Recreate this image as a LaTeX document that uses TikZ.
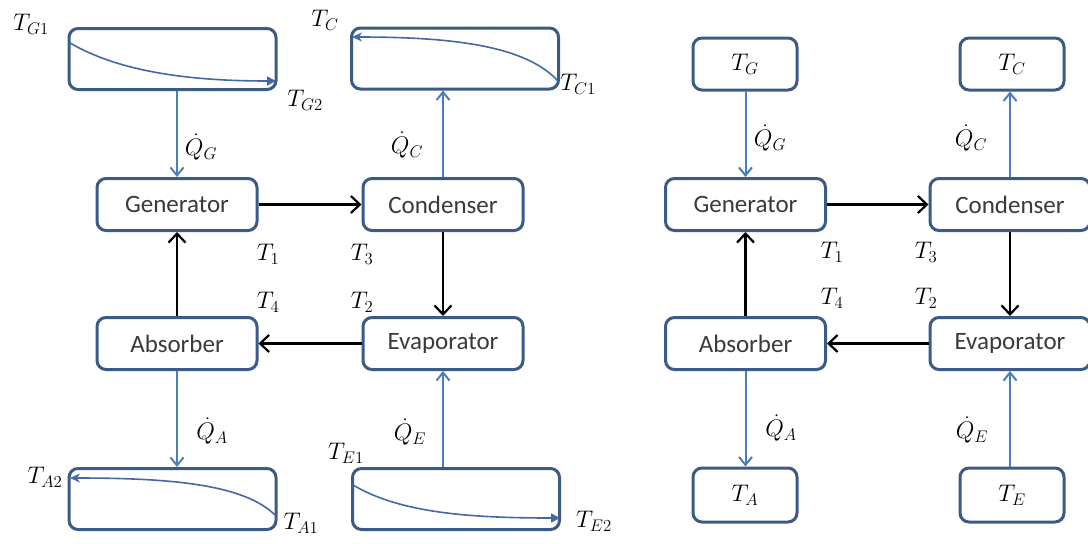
\RequirePackage{fix-cm}
\documentclass[tikz,border=0pt]{standalone}
\usepackage{fontspec}
\setmainfont{Carlito}
\usetikzlibrary{arrows.meta}
\definecolor{boxc}{HTML}{3B5B86}
\definecolor{bluea}{HTML}{4A7EBB}
\definecolor{curvec}{HTML}{4468A6}
\definecolor{txt}{HTML}{3A3A3A}
\begin{document}
\begin{tikzpicture}[x=1pt,y=-1pt,
  rbox/.style={draw=boxc, line width=3pt, rounded corners=9pt, fill=white, inner sep=0pt,
    font=\fontsize{25}{28}\selectfont, text=txt},
  hx/.style={rbox, minimum width=207pt, minimum height=61pt},
  proc/.style={rbox, minimum width=160pt, minimum height=52pt},
  res/.style={rbox, minimum width=104pt, minimum height=52pt, font=\fontsize{24}{28}\selectfont, text=black},
  lab/.style={inner sep=0pt, font=\fontsize{24}{28}\selectfont, text=black},
  flow/.style={draw=black, line width=2.2pt, -{Straight Barb[length=9pt,width=17pt,line width=2.2pt]}},
  heat/.style={draw=bluea, line width=2pt, -{Straight Barb[length=8pt,width=13pt,line width=2pt]}},
  tcurve/.style={draw=curvec, line width=1.6pt}
]
\useasboundingbox (0,0) rectangle (1088,544);
% ---------------- left diagram ----------------
\node[hx] (hg) at (172.5,59) {};
\node[hx] (hc) at (455,58.5) {};
\node[hx] (ha) at (172.5,499) {};
\node[hx] (he) at (456,499) {};
\node[proc] (gen) at (177,204.5) {Generator};
\node[proc] (con) at (443,204.5) {Condenser};
\node[proc] (abs) at (177,343.5) {Absorber};
\node[proc] (eva) at (443,343.5) {Evaporator};

\draw[flow] (gen.east) -- (con.west);
\draw[flow] (con.south) -- (eva.north);
\draw[flow] (eva.west) -- (abs.east);
\draw[flow] (abs.north) -- (gen.south);

\draw[heat] (hg.south -| gen.north) -- (gen.north);
\draw[heat] (con.north) -- (con.north |- hc.south);
\draw[heat] (abs.south) -- (abs.south |- ha.north);
\draw[heat] (eva.south |- he.north) -- (eva.south);

% temperature curves inside the heat exchangers
\coordinate (g1) at (70,43);   \coordinate (g2) at (276,81);
\coordinate (c1) at (558,81);  \coordinate (c2) at (352,37);
\coordinate (a1) at (276,516); \coordinate (a2) at (70,478);
\coordinate (e1) at (353,485); \coordinate (e2) at (560,518);
\draw[tcurve, -{Triangle[length=9pt,width=9pt]}] (g1) .. controls (120,72) and (190,81) .. (g2);
\draw[tcurve, -{Stealth[length=10pt,width=9pt,open]}] (c1) .. controls (525,45) and (450,37) .. (c2);
\draw[tcurve, -{Stealth[length=10pt,width=9pt,open]}] (a1) .. controls (245,484) and (170,478) .. (a2);
\draw[tcurve, -{Triangle[length=9pt,width=9pt]}] (e1) .. controls (400,513) and (470,518) .. (e2);

\node[lab] (lg1) at (31,24) {$T_{G1}$};
\node[lab] (lg2) at (305,100) {$T_{G2}$};
\node[lab] (lc) at (325,20) {$T_{C}$};
\node[lab] (lc1) at (578,84) {$T_{C1}$};
\node[lab] (la2) at (45,477) {$T_{A2}$};
\node[lab] (la1) at (301,523) {$T_{A1}$};
\node[lab] (le1) at (346,453) {$T_{E1}$};
\node[lab] (le2) at (594,521) {$T_{E2}$};

\node[lab] (qg) at (201,147) {$\dot{Q}_G$};
\node[lab] (qc) at (407,145) {$\dot{Q}_C$};
\node[lab] (qa) at (212,431) {$\dot{Q}_A$};
\node[lab] (qe) at (410,432) {$\dot{Q}_E$};

\node[lab] (t1) at (268,254) {$T_1$};
\node[lab] (t3) at (362,254) {$T_3$};
\node[lab] (t4) at (268,302) {$T_4$};
\node[lab] (t2) at (362,302) {$T_2$};

% ---------------- right diagram ----------------
\node[res] (tg) at (745,64) {$T_G$};
\node[res] (tc) at (1012,64) {$T_C$};
\node[res, minimum height=54pt] (ta) at (745,495) {$T_A$};
\node[res, minimum height=54pt] (te) at (1012,495) {$T_E$};
\node[proc] (gen2) at (745.5,204.5) {Generator};
\node[proc] (con2) at (1010,204.5) {Condenser};
\node[proc] (abs2) at (745.5,343.5) {Absorber};
\node[proc] (eva2) at (1010,343.5) {Evaporator};

\draw[flow] (gen2.east) -- (con2.west);
\draw[flow] (con2.south) -- (eva2.north);
\draw[flow] (eva2.west) -- (abs2.east);
\draw[flow] (abs2.north) -- (gen2.south);

\draw[heat] (tg.south -| gen2.north) -- (gen2.north);
\draw[heat] (con2.north) -- (con2.north |- tc.south);
\draw[heat] (abs2.south) -- (abs2.south |- ta.north);
\draw[heat] (eva2.south |- te.north) -- (eva2.south);

\node[lab] (qg2) at (770,138) {$\dot{Q}_G$};
\node[lab] (qc2) at (971,138) {$\dot{Q}_C$};
\node[lab] (qa2) at (781,428) {$\dot{Q}_A$};
\node[lab] (qe2) at (972,430) {$\dot{Q}_E$};

\node[lab] (t12) at (832,252) {$T_1$};
\node[lab] (t32) at (926,252) {$T_3$};
\node[lab] (t42) at (832,298) {$T_4$};
\node[lab] (t22) at (926,298) {$T_2$};
\end{tikzpicture}
\end{document}
